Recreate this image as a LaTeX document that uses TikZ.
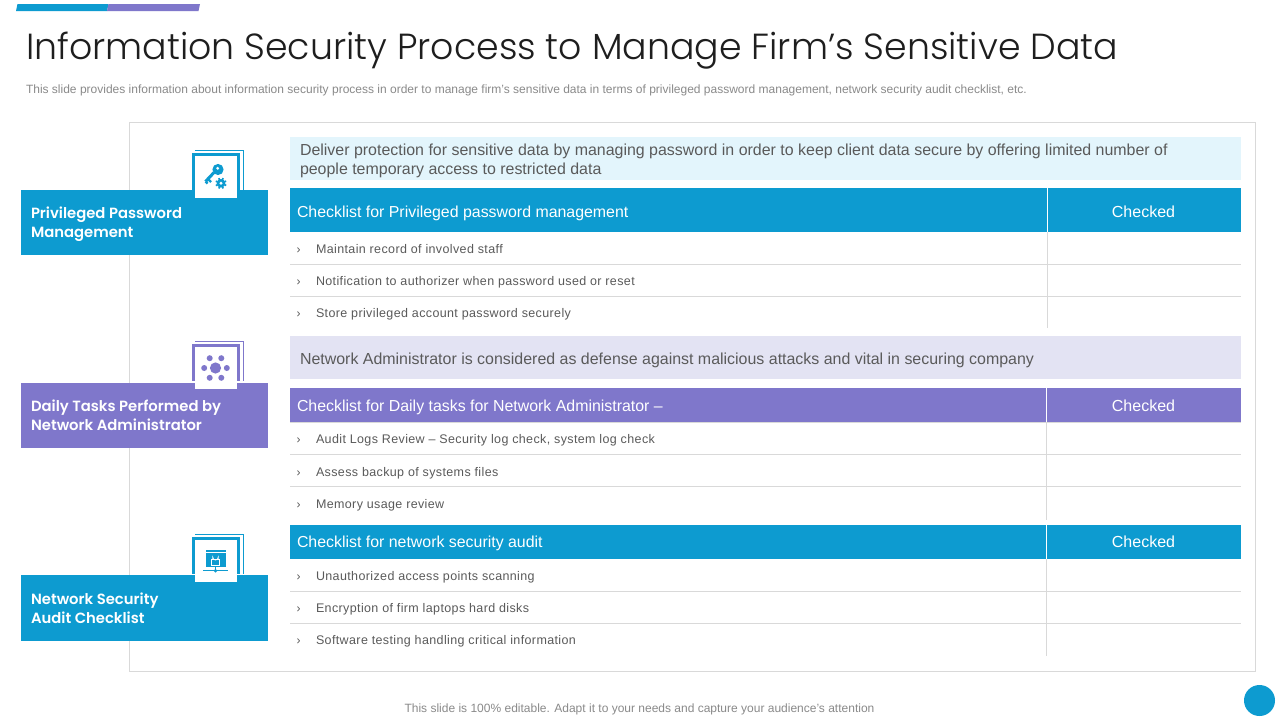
\documentclass[tikz,border=0pt]{standalone}
\usepackage{fontspec}
\setmainfont{Liberation Sans}
\newfontfamily\gothic{Poppins Light}
\newfontfamily\gothicb{Poppins SemiBold}
\newfontfamily\rowfont[LetterSpace=3]{Liberation Sans}
\definecolor{cblue}{HTML}{0D9BD0}
\definecolor{cpurple}{HTML}{7F77CB}
\definecolor{lblue}{HTML}{E3F5FC}
\definecolor{lpurple}{HTML}{E3E3F3}
\definecolor{rule}{HTML}{D9D9D9}
\definecolor{body}{HTML}{5A5A5A}
\definecolor{titlec}{HTML}{1E1E1E}
\definecolor{note}{HTML}{8A8A8A}
\newcommand{\fs}[1]{\fontsize{#1pt}{#1pt}\selectfont}
\tikzset{
 x=1pt,y=-1pt,
 every node/.style={inner sep=0pt,outer sep=0pt},
 labeltxt/.style={anchor=west,align=left,text=white,font=\gothicb\fontsize{14.8pt}{19pt}\selectfont},
 headtxt/.style={anchor=base west,text=white,font=\fs{15.9}},
 checktxt/.style={anchor=base,text=white,font=\fs{16}},
 rowtxt/.style={anchor=base west,text=body,font=\rowfont\fs{12.5}},
 chev/.style={anchor=base,text=body,font=\fs{12}},
 calltxt/.style={anchor=base west,text=body,font=\fs{15.95}},
 divline/.style={draw=rule,line width=1pt},
 vline/.style={draw=#1,line width=1pt},
}
\newcommand{\iconframe}[3]{% top of outline, colour, name
 \draw[#2,line width=.8pt] (195,#1) -- (243.5,#1) -- (243.5,#1+40);
 \fill[#2] (192,#1+3) rectangle (240,#1+40);
 \node[fill=white,minimum width=42pt,minimum height=42pt,anchor=north west] (#3) at (195,#1+6) {};
}
\begin{document}
\begin{tikzpicture}
\useasboundingbox (0,0) rectangle (1280,720);
\fill[white] (0,0) rectangle (1280,720);
% top accent
\fill[cblue] (17.5,4) -- (108.5,4) -- (107,11) -- (16,11) -- cycle;
\fill[cpurple] (108.5,4) -- (200,4) -- (198.5,11) -- (107,11) -- cycle;
% title
\node[anchor=base west,text=titlec,font=\gothic\fs{36.3}] (title) at (26,59) {Information Security Process to Manage Firm’s Sensitive Data};
\node[anchor=base west,text=note,font=\fs{12}] (sub) at (26,93.5) {This slide provides information about information security process in order to manage firm’s sensitive data in terms of privileged password management, network security audit checklist, etc.};
% frame
\draw[rule,line width=1pt] (129.5,122.5) rectangle (1255.5,671.5);
% left bars
\fill[cblue] (21,190) rectangle (268,255);
\fill[cpurple] (21,383) rectangle (268,448);
\fill[cblue] (21,575) rectangle (268,641);
\iconframe{150}{cblue}{iconA}
\iconframe{341}{cpurple}{iconB}
\iconframe{534}{cblue}{iconC}
\node[labeltxt] (labA) at (31,224.5) {Privileged Password\\Management};
\node[labeltxt] (labB) at (31,415.5) {Daily Tasks Performed by\\Network Administrator};
\node[labeltxt] (labC) at (31,608.5) {Network Security\\Audit Checklist};
% key icon
\begin{scope}[cblue]
\draw[line width=3pt] (214,172.5) -- (205.5,181.5);
\draw[line width=2.2pt] (208,179) -- (211,182);
\draw[line width=2.2pt] (205.5,181.5) -- (207.5,183.5);
\fill[even odd rule] (218,169.5) circle (5.6) (217.7,168.3) circle (1.8);
\fill[white] (221,183.3) circle (6.5);
\fill[even odd rule] (221,183.3) circle (4.3) (221,183.3) circle (1.9);
\foreach \a in {0,45,...,315}{\draw[line width=1.7pt] (221,183.3) ++(\a+22:3.6) -- ++(\a+22:2);}
\end{scope}
% network icon
\begin{scope}[cpurple]
\fill (215.5,368) circle (5.6);
\foreach \p in {(209.7,358.2),(221.3,358.2),(204.2,368),(226.8,368),(209.7,377.8),(221.3,377.8)}{\fill \p circle (3);}
\end{scope}
% lock icon
\begin{scope}[cblue]
\fill (205.5,550) rectangle (225.5,566.5);
\draw[white,line width=.6pt] (205.5,552) -- (225.5,552);
\draw[white,line width=.8pt] (211.2,559.8) rectangle (219.8,565);
\draw[white,line width=.8pt] (212.8,559.8) -- (212.8,557.3) arc[start angle=180,end angle=0,radius=2.7] -- (218.2,559.8);
\draw[line width=.8pt] (215.5,566.5) -- (215.5,570.5);
\draw[line width=.8pt] (203,570.7) -- (228,570.7);
\fill (215.5,570.7) circle (1.8);
\end{scope}
% section 1
\fill[lblue] (290,137) rectangle (1241,180);
\node[calltxt] (callA1) at (300,155.2) {Deliver protection for sensitive data by managing password in order to keep client data secure by offering limited number of};
\node[calltxt] (callA2) at (300,174.2) {people temporary access to restricted data};
\fill[cblue] (290,188) rectangle (1241,232);
\node[headtxt] (headA) at (297,217) {Checklist for Privileged password management};
\node[checktxt] (chkA) at (1143.5,217) {Checked};
\draw[white,line width=.8pt] (1047.5,188) -- (1047.5,232);
\draw[vline=rule] (1047.5,232) -- (1047.5,328);
\draw[divline] (290,264.5) -- (1241,264.5);
\draw[divline] (290,296.5) -- (1241,296.5);
\node[chev] at (298.5,253) {›};
\node[chev] at (298.5,285) {›};
\node[chev] at (298.5,317) {›};
\node[rowtxt] (a1) at (316,253) {Maintain record of involved staff};
\node[rowtxt] (a2) at (316,285) {Notification to authorizer when password used or reset};
\node[rowtxt] (a3) at (316,317) {Store privileged account password securely};
% section 2
\fill[lpurple] (290,336) rectangle (1241,379);
\node[calltxt] (callB) at (300,364) {Network Administrator is considered as defense against malicious attacks and vital in securing company};
\fill[cpurple] (290,388) rectangle (1241,422);
\node[headtxt] (headB) at (297,411.6) {Checklist for Daily tasks for Network Administrator –};
\node[checktxt] (chkB) at (1143.5,411.6) {Checked};
\draw[white,line width=.8pt] (1046.5,388) -- (1046.5,422);
\draw[vline=rule] (1046.5,422) -- (1046.5,520);
\draw[divline] (290,422.5) -- (1241,422.5);
\draw[divline] (290,454.5) -- (1241,454.5);
\draw[divline] (290,486.5) -- (1241,486.5);
\node[chev] at (298.5,443) {›};
\node[chev] at (298.5,476) {›};
\node[chev] at (298.5,508) {›};
\node[rowtxt] (b1) at (316,443) {Audit Logs Review – Security log check, system log check};
\node[rowtxt] (b2) at (316,476) {Assess backup of systems files};
\node[rowtxt] (b3) at (316,508) {Memory usage review};
% section 3
\fill[cblue] (290,525) rectangle (1241,559);
\node[headtxt] (headC) at (297,547.6) {Checklist for network security audit};
\node[checktxt] (chkC) at (1143.5,547.6) {Checked};
\draw[white,line width=.8pt] (1046.5,525) -- (1046.5,559);
\draw[vline=rule] (1046.5,559) -- (1046.5,656);
\draw[divline] (290,591.5) -- (1241,591.5);
\draw[divline] (290,623.5) -- (1241,623.5);
\node[chev] at (298.5,580) {›};
\node[chev] at (298.5,612) {›};
\node[chev] at (298.5,644) {›};
\node[rowtxt] (c1) at (316,580) {Unauthorized access points scanning};
\node[rowtxt] (c2) at (316,612) {Encryption of firm laptops hard disks};
\node[rowtxt] (c3) at (316,644) {Software testing handling critical information};
% footer
\node[anchor=base,text=note,font=\fs{12}] (foot) at (639.5,712.5) {This slide is 100\% editable. Adapt it to your needs and capture your audience's attention};
\fill[cblue] (1259.5,700.5) circle (15.5);
\end{tikzpicture}
\end{document}
